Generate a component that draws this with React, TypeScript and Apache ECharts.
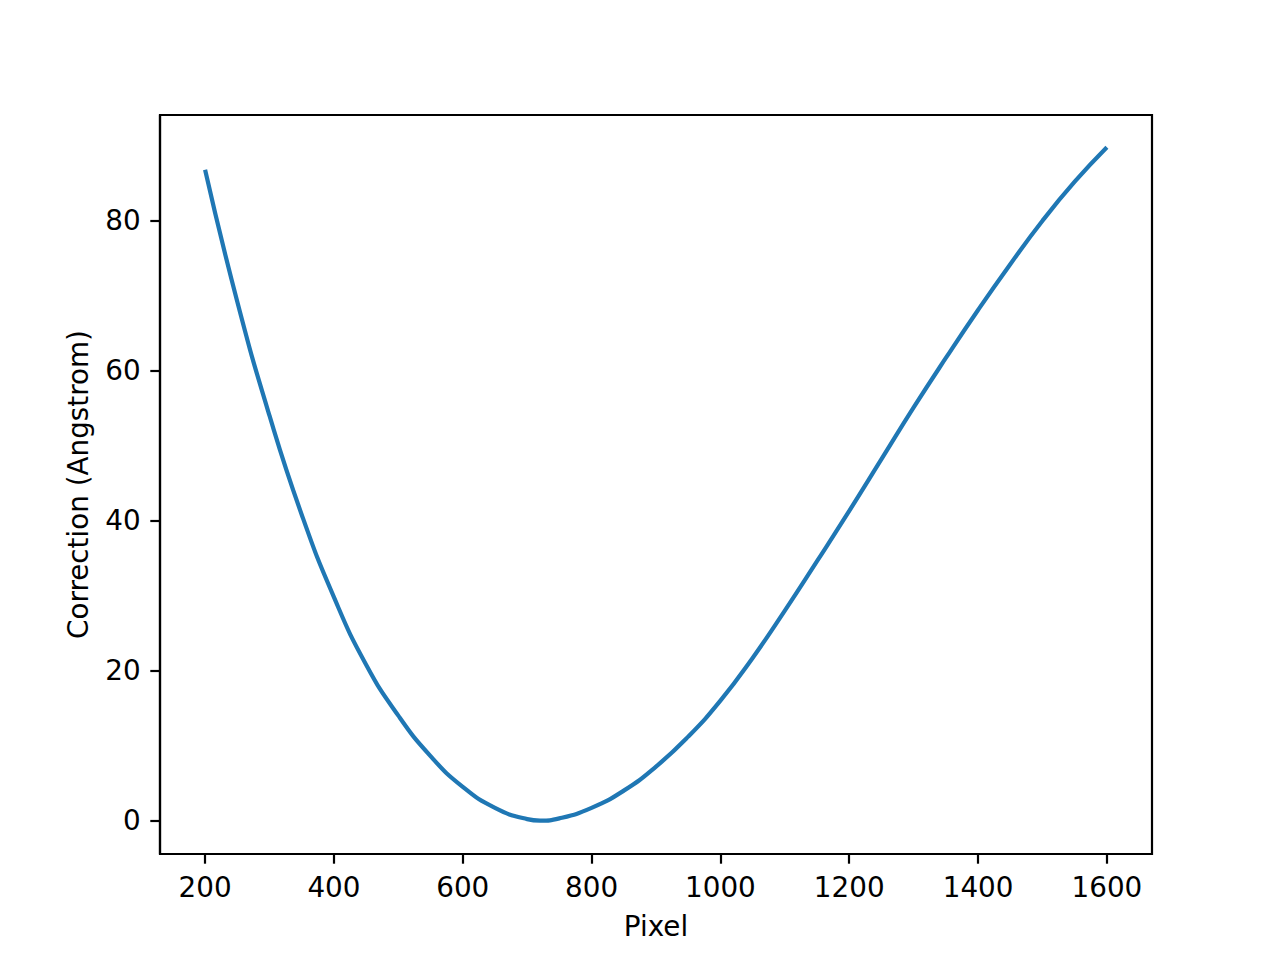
import React, { useEffect, useRef } from "react";
import * as echarts from "echarts";

const pixels = [
  200, 250, 300, 350, 400, 450, 500, 550, 600, 650, 700, 720, 750, 800, 850,
  900, 950, 1000, 1050, 1100, 1150, 1200, 1250, 1300, 1350, 1400, 1450, 1500,
  1550, 1600,
];
const corrections = [
  86.8, 69.2, 54.0, 40.8, 29.8, 20.8, 14.0, 8.6, 4.5, 1.7, 0.2, 0.0, 0.3, 1.7,
  4.0, 7.2, 11.2, 16.0, 21.7, 28.0, 34.6, 41.3, 48.2, 55.1, 61.7, 68.1, 74.2,
  80.0, 85.2, 89.8,
];
const xTicks = [200, 400, 600, 800, 1000, 1200, 1400, 1600];
const yTicks = [0, 20, 40, 60, 80];

const FONT = "DejaVu Sans";
const FS = 27.8;

export default function App() {
  const ref = useRef<HTMLDivElement>(null);
  useEffect(() => {
    const chart = echarts.init(ref.current!, null, { renderer: "svg" });
    chart.setOption({
      animation: false,
      backgroundColor: "#ffffff",
      grid: {
        left: 160,
        top: 115,
        width: 992,
        height: 739,
        show: true,
        borderColor: "#000",
        borderWidth: 2.2,
        backgroundColor: "transparent",
      },
      xAxis: {
        type: "value",
        min: 130,
        max: 1670,
        name: "Pixel",
        nameLocation: "middle",
        nameGap: 58,
        nameTextStyle: { fontFamily: FONT, fontSize: FS, color: "#000" },
        axisLine: {
          show: true,
          onZero: false,
          lineStyle: { color: "#000", width: 2.2 },
        },
        axisTick: {
          show: true,
          inside: false,
          length: 9.7,
          lineStyle: { color: "#000", width: 2.2 },
          customValues: xTicks,
        },
        axisLabel: {
          fontFamily: FONT,
          fontSize: FS,
          color: "#000",
          margin: 19.4,
          customValues: xTicks,
          formatter: (v: number) => String(v),
        },
        splitLine: { show: false },
      },
      yAxis: {
        type: "value",
        min: -4.45,
        max: 94.1,
        name: "Correction (Angstrom)",
        nameLocation: "middle",
        nameGap: 68,
        nameRotate: 90,
        nameTextStyle: { fontFamily: FONT, fontSize: FS, color: "#000" },
        axisLine: {
          show: true,
          onZero: false,
          lineStyle: { color: "#000", width: 2.2 },
        },
        axisTick: {
          show: true,
          inside: false,
          length: 9.7,
          lineStyle: { color: "#000", width: 2.2 },
          customValues: yTicks,
        },
        axisLabel: {
          fontFamily: FONT,
          fontSize: FS,
          color: "#000",
          margin: 19.4,
          customValues: yTicks,
          formatter: (v: number) => String(v),
        },
        splitLine: { show: false },
      },
      series: [
        {
          type: "line",
          data: pixels.map((p, i) => [p, corrections[i]]),
          showSymbol: false,
          smooth: 0.5,
          lineStyle: { color: "#1f77b4", width: 4.2 },
          itemStyle: { color: "#1f77b4" },
        },
      ],
    });
    return () => chart.dispose();
  }, []);
  return (
    <div
      ref={ref}
      style={{
        position: "absolute",
        left: 0,
        top: 0,
        width: 1280,
        height: 960,
        background: "#fff",
      }}
    />
  );
}
